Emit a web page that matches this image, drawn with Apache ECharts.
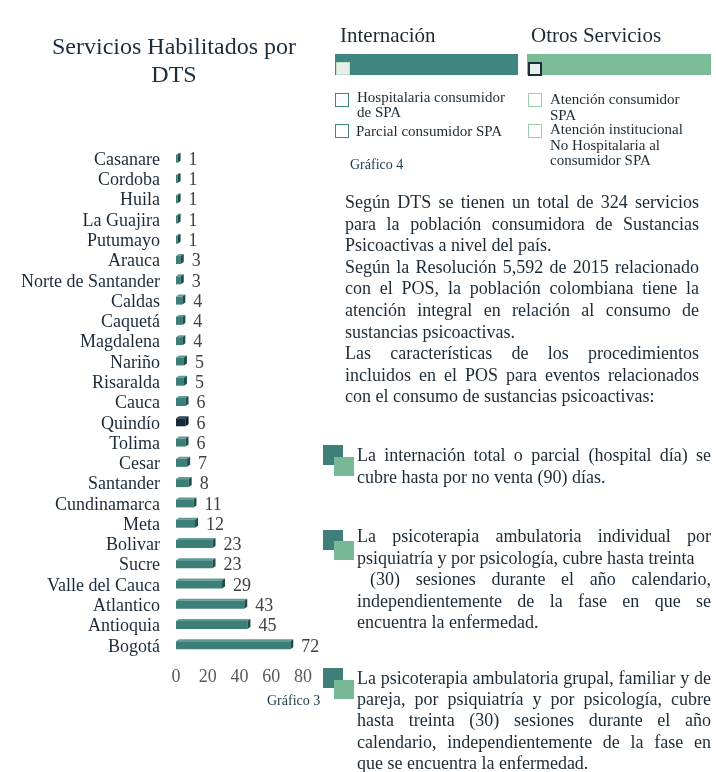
<!DOCTYPE html>
<html>
<head>
<meta charset="utf-8">
<script src="https://cdn.jsdelivr.net/npm/echarts@6/dist/echarts.min.js"></script>
<style>
  html, body { margin: 0; padding: 0; background: #ffffff; }
  #wrap { position: relative; width: 716px; height: 772px; overflow: hidden; }
  #chart { position: absolute; left: 0; top: 0; width: 716px; height: 772px; }
  .t { position: absolute; font-family: "Liberation Serif", "DejaVu Serif", serif; color: #1b2a36; white-space: nowrap; }
  .para { position: absolute; font-family: "Liberation Serif", serif; font-size: 18px; line-height: 21.5px; color: #1b2a36; }
  .para div { white-space: nowrap; }
  .para div.j { text-align: justify; text-align-last: justify; white-space: normal; }
  .box { position: absolute; box-sizing: border-box; }
</style>
</head>
<body>
<div id="wrap">
  <div id="chart"></div>

  <!-- header blocks -->
  <div class="t" style="left:340px;top:23px;font-size:21px;line-height:24px;">Internación</div>
  <div class="t" style="left:531px;top:23px;font-size:21px;line-height:24px;">Otros Servicios</div>
  <div class="box" style="left:335px;top:54px;width:183px;height:21px;background:#3f8580;"></div>
  <div class="box" style="left:336px;top:62px;width:14px;height:13px;background:#e8eeea;border:1px solid #bfe0c9;"></div>
  <div class="box" style="left:527px;top:54px;width:184px;height:21px;background:#7abb98;"></div>
  <div class="box" style="left:528px;top:62px;width:14px;height:14px;background:#e8eeea;border:2px solid #1b2e3a;"></div>

  <!-- legend-like items -->
  <div class="box" style="left:335px;top:93px;width:14px;height:14px;border:1.5px solid #3f8580;"></div>
  <div class="t" style="left:357px;top:90px;font-size:15px;line-height:15px;">Hospitalaria consumidor<br>de SPA</div>
  <div class="box" style="left:335px;top:124px;width:14px;height:14px;border:1.5px solid #3f8580;"></div>
  <div class="t" style="left:356px;top:124px;font-size:15px;line-height:15px;">Parcial consumidor SPA</div>
  <div class="t" style="left:350px;top:157px;font-size:14px;line-height:16px;color:#1b3a4b;">Gráfico 4</div>

  <div class="box" style="left:528px;top:93px;width:14px;height:14px;border:1.5px solid #9bcdb0;"></div>
  <div class="t" style="left:550px;top:92px;font-size:15px;line-height:15.5px;">Atención consumidor<br>SPA</div>
  <div class="box" style="left:528px;top:124px;width:14px;height:14px;border:1.5px solid #9bcdb0;"></div>
  <div class="t" style="left:550px;top:122px;font-size:15px;line-height:15.5px;">Atención institucional<br>No Hospitalaria al<br>consumidor SPA</div>

  <!-- main paragraph -->
  <div class="para" style="left:345px;top:192px;width:354px;line-height:21.6px;">
    <div class="j">Según DTS se tienen un total de 324 servicios</div>
    <div class="j">para la población consumidora de Sustancias</div>
    <div>Psicoactivas a nivel del país.</div>
    <div class="j">Según la Resolución 5,592 de 2015 relacionado</div>
    <div class="j">con el POS, la población colombiana tiene la</div>
    <div class="j">atención integral en relación al consumo de</div>
    <div>sustancias psicoactivas.</div>
    <div class="j">Las características de los procedimientos</div>
    <div class="j">incluidos en el POS para eventos relacionados</div>
    <div>con el consumo de sustancias psicoactivas:</div>
  </div>

  <!-- bullet icons -->
  <div class="box" style="left:323px;top:445px;width:20px;height:20px;background:#3e7f79;"></div>
  <div class="box" style="left:334px;top:457px;width:20px;height:19px;background:#77b996;"></div>
  <div class="box" style="left:323px;top:530px;width:20px;height:20px;background:#3e7f79;"></div>
  <div class="box" style="left:334px;top:541px;width:20px;height:19px;background:#77b996;"></div>
  <div class="box" style="left:323px;top:668px;width:20px;height:20px;background:#3e7f79;"></div>
  <div class="box" style="left:334px;top:680px;width:20px;height:19px;background:#77b996;"></div>

  <div class="para" style="left:357px;top:445px;width:354px;">
    <div class="j">La internación total o parcial (hospital día) se</div>
    <div>cubre hasta por no venta (90) días.</div>
  </div>
  <div class="para" style="left:357px;top:526px;width:354px;">
    <div class="j">La psicoterapia ambulatoria individual por</div>
    <div>psiquiatría y por psicología, cubre hasta treinta</div>
    <div class="j" style="padding-left:13px;">(30) sesiones durante el año calendario,</div>
    <div class="j">independientemente de la fase en que se</div>
    <div>encuentra la enfermedad.</div>
  </div>
  <div class="para" style="left:357px;top:668px;width:354px;line-height:21.2px;">
    <div class="j">La psicoterapia ambulatoria grupal, familiar y de</div>
    <div class="j">pareja, por psiquiatría y por psicología, cubre</div>
    <div class="j">hasta treinta (30) sesiones durante el año</div>
    <div class="j">calendario, independientemente de la fase en</div>
    <div>que se encuentra la enfermedad.</div>
  </div>
</div>
<script>
// ---- data ----
const categories = ['Casanare','Cordoba','Huila','La Guajira','Putumayo','Arauca','Norte de Santander','Caldas','Caquetá','Magdalena','Nariño','Risaralda','Cauca','Quindío','Tolima','Cesar','Santander','Cundinamarca','Meta','Bolivar','Sucre','Valle del Cauca','Atlantico','Antioquia','Bogotá'];
const values = [1,1,1,1,1,3,3,4,4,4,5,5,6,6,6,7,8,11,12,23,23,29,43,45,72];
const xTicks = [0,20,40,60,80];
const chartTitle = 'Servicios Habilitados por\nDTS';
const highlightCategory = 'Quindío';

// ---- styles ----
const FONT = '"Liberation Serif", "DejaVu Serif", serif';
const baseColor = { front: '#3b7f78', top: '#5e9c95', side: '#1f4e49' };
const hiColor = { front: '#152a3a', top: '#2c4456', side: '#0a1620' };

const chart = echarts.init(document.getElementById('chart'), null, { renderer: 'canvas' });

function renderBar(params, api) {
  const v = api.value(0);
  const idx = api.value(1);
  const p0 = api.coord([0, idx]);
  const p1 = api.coord([v, idx]);
  const x0 = p0[0], x1 = p1[0], yc = p1[1];
  const c = categories[idx] === highlightCategory ? hiColor : baseColor;
  const d = 3;           // depth of the 3-D cap
  const top = yc - 5.5, bot = yc + 2.5;
  return {
    type: 'group',
    children: [
      { type: 'polygon', shape: { points: [[x0, top], [x0 + d, top - 2], [x1 + d, top - 2], [x1, top]] }, style: { fill: c.top } },
      { type: 'rect', shape: { x: x0, y: top, width: Math.max(x1 - x0, 1), height: bot - top }, style: { fill: c.front } },
      { type: 'polygon', shape: { points: [[x1, top], [x1 + d, top - 2], [x1 + d, bot - 2], [x1, bot]] }, style: { fill: c.side } },
      { type: 'text', x: x1 + d + 8, y: yc, style: { text: String(v), fill: '#404040', font: '18px ' + FONT, align: 'left', verticalAlign: 'middle' } }
    ]
  };
}

chart.setOption({
  backgroundColor: '#ffffff',
  animation: false,
  graphic: [{
    type: 'text', x: 174, y: 34,
    style: { text: chartTitle, font: '24px ' + FONT, fill: '#1b2e40', align: 'center', verticalAlign: 'top', lineHeight: 28 }
  }, {
    type: 'text', x: 267, y: 694,
    style: { text: 'Gráfico 3', font: '14px ' + FONT, fill: '#1b3a4b', verticalAlign: 'top' }
  }],
  grid: { left: 176, right: 413, top: 150, bottom: 115, containLabel: false },
  xAxis: {
    type: 'value', min: 0, max: 80, interval: 20,
    axisLine: { show: false }, axisTick: { show: false }, splitLine: { show: false },
    axisLabel: { margin: 11, color: '#595959', fontFamily: FONT, fontSize: 18,
      customValues: xTicks }
  },
  yAxis: {
    type: 'category', data: categories, inverse: true,
    axisLine: { show: false }, axisTick: { show: false }, splitLine: { show: false },
    axisLabel: { interval: 0, margin: 16, color: '#1b2a3a', fontFamily: FONT, fontSize: 18 }
  },
  series: [{
    type: 'custom',
    renderItem: renderBar,
    encode: { x: 0, y: 1 },
    data: values.map((v, i) => [v, i])
  }]
});
</script>
</body>
</html>
